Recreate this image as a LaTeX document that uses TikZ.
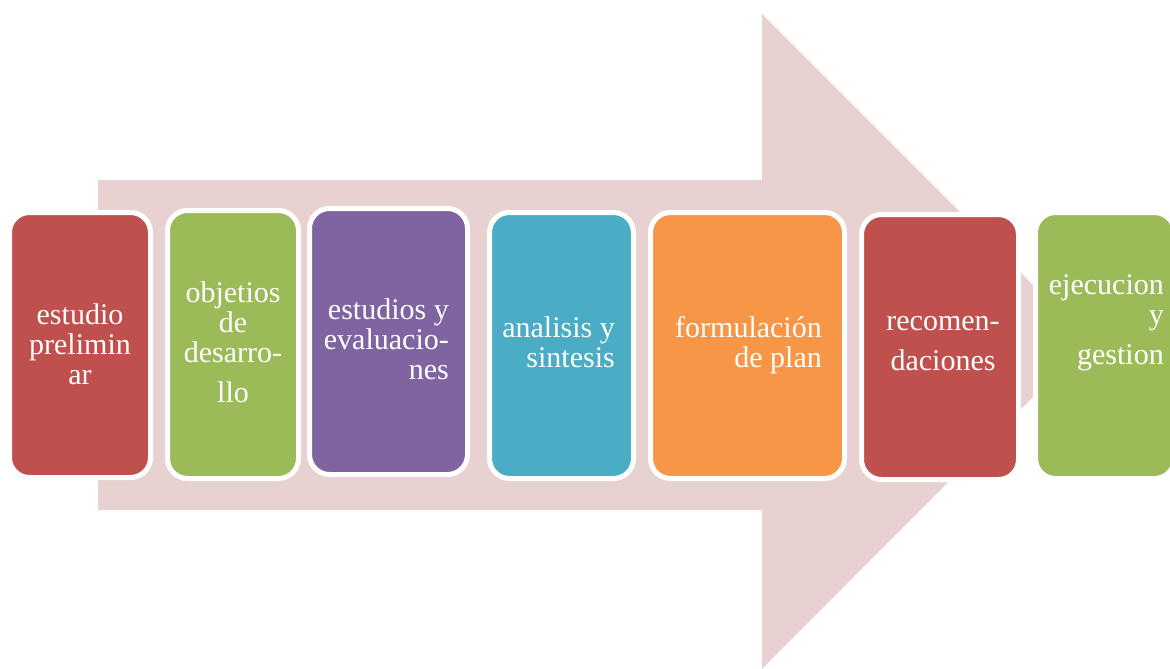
\documentclass[tikz,border=0pt]{standalone}
\usepackage{fontspec}
\setmainfont{Liberation Serif}
\usetikzlibrary{positioning}

\definecolor{arrowpink}{RGB}{232,209,209}
\definecolor{stagered}{RGB}{192,80,77}
\definecolor{stagegreen}{RGB}{155,187,89}
\definecolor{stagepurple}{RGB}{128,100,162}
\definecolor{stageteal}{RGB}{75,172,198}
\definecolor{stageorange}{RGB}{247,150,70}

\begin{document}
\begin{tikzpicture}[
  x=1pt, y=-1pt,
  stage/.style={draw=white, line width=5pt, rounded corners=20pt, minimum height=266pt, inner sep=0pt},
  stagetext/.style={text=white, font=\fontsize{30}{30}\selectfont, inner sep=0pt}
]
\useasboundingbox (0,0) rectangle (1170,669);

% Big arrow behind
\fill[arrowpink] (98,180) -- (762,180) -- (762,14) -- (1089,341) -- (762,669) -- (762,510) -- (98,510) -- cycle;

% Stages (left to right)
\node[stage, fill=stagered, minimum width=141pt, minimum height=265pt] (prelim) at (80,345) {};
\node[stage, fill=stagegreen, minimum width=131pt, minimum height=268pt] (objet) at (233,344.5) {};
\node[stage, fill=stagepurple, minimum width=158pt] (estud) at (388.5,341.5) {};
\node[stage, fill=stageteal, minimum width=144pt] (analis) at (561.5,345.5) {};
\node[stage, fill=stageorange, minimum width=194pt] (formul) at (747.5,345.5) {};
\node[stage, fill=stagered, minimum width=157pt, minimum height=265pt] (recom) at (940,347) {};
\node[stage, fill=stagegreen, minimum width=139pt] (ejec) at (1105,345.5) {};

% Stage texts
\node[stagetext, align=center] (prelim-t) at (80,344) {estudio\\prelimin\\ar};
\node[stagetext, align=center] (objet-t) at (233,342) {objetios\\de\\desarro-\\[10pt]llo};
\node[stagetext, align=right, anchor=east] (estud-t) at (449,339) {estudios y\\evaluacio-\\nes};
\node[stagetext, align=right, anchor=east] (analis-t) at (615,342) {analisis y\\sintesis};
\node[stagetext, align=right, anchor=east] (formul-t) at (822,345) {formulación\\de plan};
\node[stagetext, align=center] (recom-t) at (943,344) {recomen-\\[10pt]daciones};
\node[stagetext, align=right, anchor=east] (ejec-t) at (1164,323) {ejecucion\\y\\[10pt]gestion};

\end{tikzpicture}
\end{document}
